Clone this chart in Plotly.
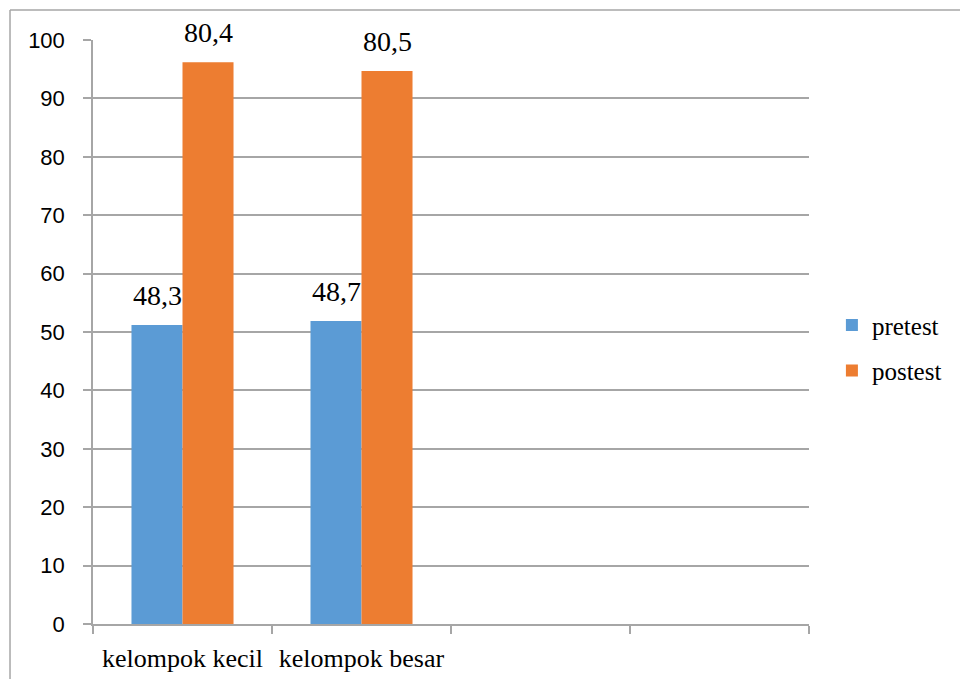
import plotly.graph_objects as go

categories = ["kelompok kecil", "kelompok besar", " ", "  "]
bar_categories = ["kelompok kecil", "kelompok besar"]
pretest_values = [51.2, 51.9]
postest_values = [96.2, 94.7]
pretest_labels = ["48,3", "48,7"]
postest_labels = ["80,4", "80,5"]
y_ticks = [0, 10, 20, 30, 40, 50, 60, 70, 80, 90, 100]

GRID = "#a6a6a6"
SERIF = "Liberation Serif, Times New Roman, serif"
BAR_HALF = 25.5  # pixel offset of each bar centre from its category centre

fig = go.Figure()
fig.add_trace(go.Bar(
    name="pretest", x=bar_categories, y=pretest_values, legendgroup="a",
    marker=dict(color="#5B9BD5", line=dict(width=0)),
))
fig.add_trace(go.Bar(
    name="postest", x=bar_categories, y=postest_values, legendgroup="b",
    marker=dict(color="#ED7D31", line=dict(width=0)),
))

annotations = []
for vals, labels, shift in ((pretest_values, pretest_labels, -BAR_HALF),
                            (postest_values, postest_labels, BAR_HALF)):
    for cat, v, lab in zip(bar_categories, vals, labels):
        annotations.append(dict(
            x=cat, y=v, xref="x", yref="y", text=lab, showarrow=False,
            xanchor="center", yanchor="bottom", xshift=shift, yshift=12,
            font=dict(family=SERIF, size=28, color="black"),
        ))

fig.update_layout(
    width=960, height=679,
    margin=dict(l=93, r=151, t=40, b=55, autoexpand=False),
    paper_bgcolor="white", plot_bgcolor="white",
    barmode="group", bargap=0.43, bargroupgap=0,
    showlegend=True,
    annotations=annotations,
    legend=dict(x=1.032, y=0.473, xanchor="left", yanchor="middle",
                font=dict(family=SERIF, size=25, color="black"),
                itemwidth=30, traceorder="grouped", tracegroupgap=10,
                bgcolor="rgba(0,0,0,0)"),
    xaxis=dict(
        type="category", categoryorder="array", categoryarray=categories,
        range=[-0.5, 3.5], tickson="boundaries", ticks="outside", ticklen=8,
        tickcolor=GRID, tickwidth=1.5, showline=True, linecolor=GRID, linewidth=1.5,
        showgrid=False, tickfont=dict(family=SERIF, size=26, color="black"),
        ticklabelstandoff=10, fixedrange=True, automargin=False,
    ),
    yaxis=dict(
        range=[0, 100], tickvals=y_ticks, ticks="outside", ticklen=8,
        tickcolor=GRID, tickwidth=1.5, showline=True, linecolor=GRID, linewidth=1.5,
        showgrid=True, gridcolor=GRID, gridwidth=1.5, zeroline=False,
        tickfont=dict(family="Liberation Sans", size=22, color="black"),
        ticklabelstandoff=14, automargin=False,
    ),
    shapes=[
        dict(type="line", xref="paper", yref="paper", x0=-0.1159, x1=1.3, y0=1.0514, y1=1.0514,
             line=dict(color=GRID, width=1.5)),
        dict(type="line", xref="paper", yref="paper", x0=-0.1159, x1=-0.1159, y0=1.0514, y1=-0.2,
             line=dict(color=GRID, width=1.5)),
    ],
)

fig.write_html("out.html")
